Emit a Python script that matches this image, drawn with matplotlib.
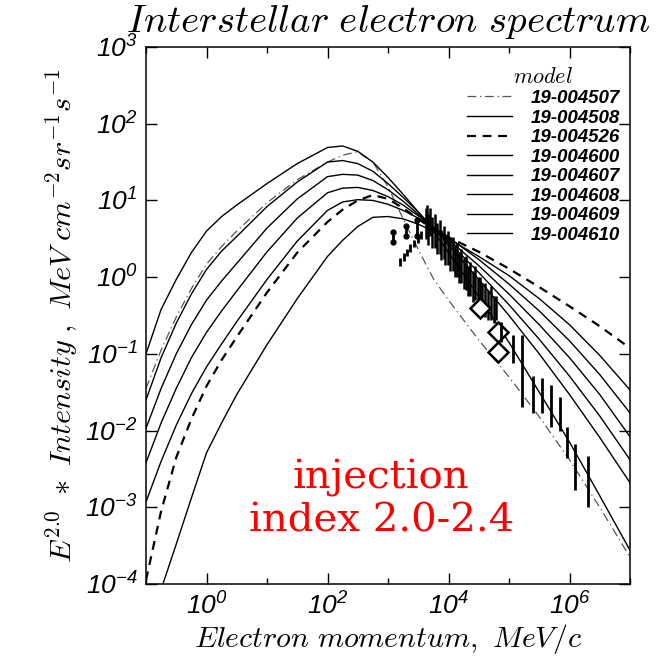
"""
Interstellar electron spectrum: GALPROP models vs data
"""

import numpy as np
import matplotlib
matplotlib.use("Agg")
import matplotlib.pyplot as plt
from matplotlib.font_manager import FontProperties
from matplotlib.ticker import NullLocator

plt.rcParams['mathtext.fontset'] = 'custom'
plt.rcParams['mathtext.rm'] = 'Liberation Sans:italic'
plt.rcParams['mathtext.it'] = 'Liberation Sans:italic'
plt.rcParams['mathtext.bf'] = 'Liberation Sans:bold:italic'

logp = [-1, -0.75, -0.5, -0.25, 0, 0.25, 0.5, 1, 1.5, 2, 2.25, 2.5,
        2.75, 3, 3.25, 3.5, 3.75, 4, 4.5, 5, 5.5, 6, 6.5, 7]

m4507 = [-1.45, -0.95, -0.52, -0.15, 0.17, 0.40, 0.60, 0.97, 1.27, 1.50, 1.59, 1.635,
         1.50, 1.18, 0.76, 0.36, -0.02, -0.30, -0.82, -1.30, -1.82, -2.38, -3.00, -3.65]
m4508 = [-1.00, -0.42, -0.03, 0.32, 0.60, 0.79, 0.94, 1.22, 1.48, 1.69, 1.71, 1.64,
         1.50, 1.30, 1.08, 0.85, 0.60, 0.32, -0.25, -0.85, -1.50, -2.15, -2.85, -3.56]
m4526 = [-3.95, -3.05, -2.35, -1.85, -1.42, -1.08, -0.78, -0.20, 0.32, 0.72, 0.88, 1.00,
         1.07, 1.02, 0.90, 0.76, 0.62, 0.52, 0.33, 0.11, -0.13, -0.38, -0.64, -0.925]
m4600 = [-1.60, -1.05, -0.60, -0.22, 0.10, 0.34, 0.53, 0.92, 1.24, 1.50, 1.52, 1.48,
         1.38, 1.22, 1.04, 0.85, 0.64, 0.42, -0.03, -0.50, -1.00, -1.53, -2.09, -2.68]
m4607 = [-1.97, -1.45, -1.00, -0.62, -0.30, -0.05, 0.18, 0.64, 1.02, 1.31, 1.34, 1.33,
         1.26, 1.14, 0.99, 0.82, 0.64, 0.46, 0.06, -0.36, -0.81, -1.29, -1.81, -2.38]
m4608 = [-2.42, -1.90, -1.45, -1.05, -0.72, -0.44, -0.18, 0.33, 0.77, 1.10, 1.16, 1.17,
         1.13, 1.05, 0.94, 0.80, 0.65, 0.49, 0.15, -0.22, -0.62, -1.05, -1.53, -2.08]
m4609 = [-2.93, -2.40, -1.93, -1.52, -1.17, -0.87, -0.58, -0.03, 0.47, 0.87, 0.98, 1.01,
         1.00, 0.95, 0.87, 0.77, 0.65, 0.52, 0.23, -0.09, -0.44, -0.83, -1.27, -1.77]
m4610 = [-4.65, -4.07, -3.48, -2.88, -2.29, -1.90, -1.53, -0.88, -0.28, 0.27, 0.48, 0.66,
         0.78, 0.79, 0.76, 0.69, 0.60, 0.50, 0.27, 0.02, -0.28, -0.62, -1.02, -1.47]

model_names = ['19-004507', '19-004508', '19-004526', '19-004600',
               '19-004607', '19-004608', '19-004609', '19-004610']

# low energy points with dotted ends
dot_p = [1200, 2000, 2980]
dot_lo = [2.9, 3.4, 3.4]
dot_hi = [3.9, 4.6, 5.5]

# short rising strokes
str_p = [1580, 1820, 2040, 2340, 2690, 3090, 3550]
str_lo = [1.41, 1.62, 1.86, 2.14, 2.45, 2.82, 3.16]
str_hi = [1.78, 2.04, 2.34, 2.69, 3.09, 3.55, 3.98]

# dense cluster of error bars
clu_p = [4200, 4400, 4600, 5000, 5400, 5900, 6500, 7100, 7600, 8300, 8900, 9800,
         10700, 11700, 12600, 13800, 15100, 16200, 17800, 19500, 20900, 22900,
         25100, 26900, 30200, 33100, 36300, 39800, 44700, 50100, 56200, 61700]
clu_lo = [3.16, 4.17, 2.63, 3.47, 2.40, 2.40, 2.00, 2.00, 1.66, 1.70, 1.45, 1.45,
          1.20, 1.20, 1.00, 1.00, 0.83, 0.85, 0.71, 0.69, 0.56, 0.575,
          0.48, 0.50, 0.40, 0.36, 0.33, 0.30, 0.275, 0.275, 0.25, 0.28]
clu_hi = [7.94, 8.71, 6.61, 7.94, 6.03, 6.61, 5.01, 5.50, 4.17, 4.68, 3.63, 3.98,
          3.02, 3.31, 2.51, 2.75, 2.09, 2.34, 1.78, 1.91, 1.41, 1.58,
          1.20, 1.38, 1.00, 1.00, 0.83, 0.83, 0.69, 0.76, 0.575, 0.56]

# open diamonds
dia_p = [33100, 66500, 66500]
dia_y = [0.40, 0.194, 0.106]

# high energy bars
hi_p = [72400, 117000, 166000, 245000, 347000, 490000, 690000, 912000, 1230000, 2000000]
hi_lo = [0.144, 0.075, 0.020, 0.0168, 0.017, 0.0112, 0.010, 0.0044, 0.00166, 0.0010]
hi_hi = [0.263, 0.175, 0.175, 0.051, 0.048, 0.039, 0.027, 0.0112, 0.0066, 0.0047]

xticks = [1e0, 1e2, 1e4, 1e6]
xticklabels = ['$10^{0}$', '$10^{2}$', '$10^{4}$', '$10^{6}$']
xminor = [1e-1, 1e1, 1e3, 1e5, 1e7]
yticks = [1e-4, 1e-3, 1e-2, 1e-1, 1e0, 1e1, 1e2, 1e3]
yticklabels = ['$10^{-4}$', '$10^{-3}$', '$10^{-2}$', '$10^{-1}$',
               '$10^{0}$', '$10^{1}$', '$10^{2}$', '$10^{3}$']


fig = plt.figure(figsize=(6.71, 6.60), dpi=100)
ax = fig.add_axes([146 / 671, 76 / 660, 484 / 671, 537 / 660])
ax.set_xscale('log')
ax.set_yscale('log')

p = np.power(10.0, logp)
curves = [m4507, m4508, m4526, m4600, m4607, m4608, m4609, m4610]
for name, vals in zip(model_names, curves):
    y = np.power(10.0, vals)
    if name == '19-004507':
        ax.plot(p, y, color='#555555', lw=0.9, dashes=(7, 3, 1, 3), label=name)
    elif name == '19-004526':
        ax.plot(p, y, color='black', lw=1.6, dashes=(4, 3), label=name)
    else:
        ax.plot(p, y, color='black', lw=1.0, label=name)

# data
ax.vlines(dot_p, dot_lo, dot_hi, color='black', lw=2)
ax.plot(dot_p + dot_p, dot_lo + dot_hi, 'o', color='black', ms=3.5, ls='none')
ax.vlines(str_p, str_lo, str_hi, color='black', lw=2)
ax.vlines(clu_p, clu_lo, clu_hi, color='black', lw=1.8)
ax.plot(dia_p, dia_y, 'D', mfc='white', mec='black', mew=1.8, ms=10, ls='none')
ax.vlines(hi_p, hi_lo, hi_hi, color='black', lw=2)

ax.set_xlim(1e-1, 1e7)
ax.set_ylim(1e-4, 1e3)

ax.set_xticks(xticks, labels=xticklabels)
ax.set_xticks(xminor, labels=[''] * len(xminor), minor=True)
ax.set_yticks(yticks, labels=yticklabels)
ax.yaxis.set_minor_locator(NullLocator())
ax.tick_params(which='both', direction='in', top=True, right=True, width=1.0)
ax.tick_params(which='major', length=8, labelsize=19)
ax.tick_params(which='minor', length=4.5)
ax.tick_params(axis='x', pad=7)
ax.tick_params(axis='y', pad=6)
for s in ax.spines.values():
    s.set_linewidth(1.1)

ax.set_title(r'$Interstellar\ electron\ spectrum$', math_fontfamily='cm',
             fontsize=28, pad=10.5)
ax.set_xlabel(r'$Electron\ momentum,\ MeV/c$', math_fontfamily='cm',
              fontsize=21.5, labelpad=1)
ax.set_ylabel(r'$E^{2.0}\ *\ Intensity\ ,\ MeV\ cm^{-2}sr^{-1}s^{-1}$',
              math_fontfamily='cm', fontsize=21.7, labelpad=4)

ax.text(0.486, 0.097, 'injection\nindex 2.0-2.4', transform=ax.transAxes,
        color='red', fontsize=29, family='DejaVu Serif', ha='center',
        va='baseline', multialignment='center')

leg = ax.legend(loc='upper left', bbox_to_anchor=(0.663, 0.962), frameon=False,
                title='model', handlelength=2.4, handletextpad=1.0,
                labelspacing=0.13, borderpad=0, borderaxespad=0,
                prop=FontProperties(family='Liberation Sans', style='italic',
                                    weight='bold', size=13.5),
                title_fontproperties=FontProperties(math_fontfamily='cm', size=16))
leg.set_title('$model$')

fig.savefig('out.png', dpi=100)
